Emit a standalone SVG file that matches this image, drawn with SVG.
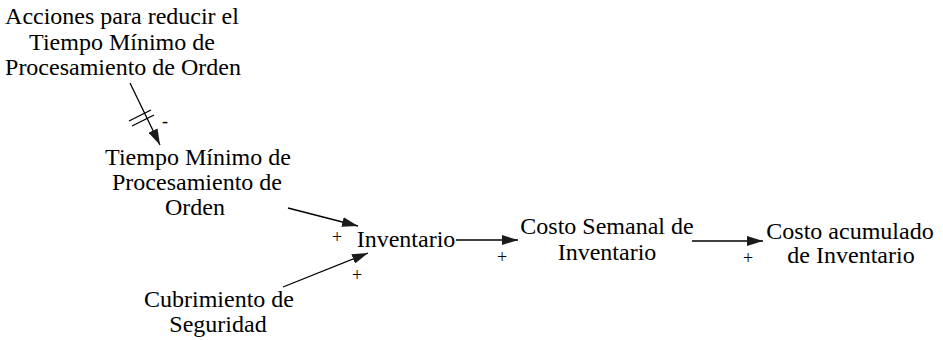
<svg xmlns="http://www.w3.org/2000/svg" width="943" height="340" viewBox="0 0 943 340">
  <style>
    .lbl { font-family: "Liberation Serif", "Times New Roman", serif; font-size: 24px; fill: #000; text-anchor: middle; }
    .sign { font-family: "Liberation Serif", "Times New Roman", serif; font-size: 18px; fill: #000; text-anchor: middle; }
    .link { stroke: #000; stroke-width: 1.3; fill: none; }
  </style>
  <defs>
    <marker id="head" viewBox="0 0 16 10" refX="16" refY="5" markerWidth="16" markerHeight="10" markerUnits="userSpaceOnUse" orient="auto">
      <path d="M0,0 L16,5 L0,10 Z" fill="#1a1a1a"/>
    </marker>
  </defs>

  <g id="acciones">
    <text class="lbl" font-family="Liberation Serif" x="122" y="24">Acciones para reducir el</text>
    <text class="lbl" font-family="Liberation Serif" x="122" y="50">Tiempo Mínimo de</text>
    <text class="lbl" font-family="Liberation Serif" x="123" y="75">Procesamiento de Orden</text>
  </g>
  <g id="tiempo-minimo">
    <text class="lbl" font-family="Liberation Serif" x="198" y="165">Tiempo Mínimo de</text>
    <text class="lbl" font-family="Liberation Serif" x="197" y="190">Procesamiento de</text>
    <text class="lbl" font-family="Liberation Serif" x="195" y="215">Orden</text>
  </g>
  <g id="inventario">
    <text class="lbl" font-family="Liberation Serif" x="406" y="247">Inventario</text>
  </g>
  <g id="cubrimiento">
    <text class="lbl" font-family="Liberation Serif" x="219" y="307">Cubrimiento de</text>
    <text class="lbl" font-family="Liberation Serif" x="218" y="332">Seguridad</text>
  </g>
  <g id="costo-semanal">
    <text class="lbl" font-family="Liberation Serif" x="607" y="234">Costo Semanal de</text>
    <text class="lbl" font-family="Liberation Serif" x="607" y="260">Inventario</text>
  </g>
  <g id="costo-acumulado">
    <text class="lbl" font-family="Liberation Serif" x="850" y="239">Costo acumulado</text>
    <text class="lbl" font-family="Liberation Serif" x="851" y="263">de Inventario</text>
  </g>

  <g id="connectors">
    <!-- delayed negative link, marked by the double bar -->
    <path class="link" marker-end="url(#head)" d="M130,83 L160,145"/>
    <line class="link" x1="129" y1="121" x2="151" y2="110"/>
    <line class="link" x1="132" y1="126" x2="154" y2="115"/>
    <text class="sign" font-family="Liberation Serif" x="165" y="127">-</text>

    <path class="link" marker-end="url(#head)" d="M288,208 L358,226"/>
    <text class="sign" font-family="Liberation Serif" x="337" y="243">+</text>

    <path class="link" marker-end="url(#head)" d="M283,287 L368,253"/>
    <text class="sign" font-family="Liberation Serif" x="357" y="281">+</text>

    <path class="link" marker-end="url(#head)" d="M456,240 L518,240"/>
    <text class="sign" font-family="Liberation Serif" x="502" y="263">+</text>

    <path class="link" marker-end="url(#head)" d="M692,241 L763,241"/>
    <text class="sign" font-family="Liberation Serif" x="748" y="264">+</text>
  </g>
</svg>
